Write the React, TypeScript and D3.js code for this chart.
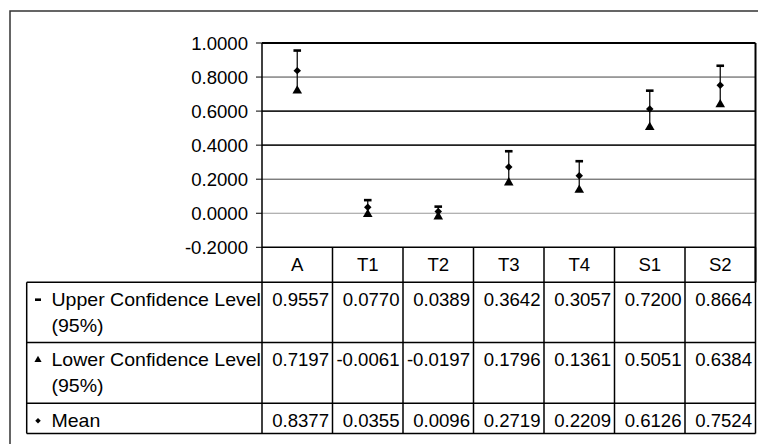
import React from "react";
import * as d3 from "d3";

const categories = ["A", "T1", "T2", "T3", "T4", "S1", "S2"];
const upper = [0.9557, 0.077, 0.0389, 0.3642, 0.3057, 0.72, 0.8664];
const lower = [0.7197, -0.0061, -0.0197, 0.1796, 0.1361, 0.5051, 0.6384];
const mean = [0.8377, 0.0355, 0.0096, 0.2719, 0.2209, 0.6126, 0.7524];
const seriesNames = [
  ["Upper Confidence Level", "(95%)"],
  ["Lower Confidence Level", "(95%)"],
  ["Mean"],
];
const yTicks = [-0.2, 0, 0.2, 0.4, 0.6, 0.8, 1.0];

const FONT = "'Liberation Sans', Arial, sans-serif";
const FS = 18.6;

function T({ x, y, anchor = "start", sx = 1, children }: any) {
  return (
    <text
      transform={`translate(${x},${y}) scale(${sx},1)`}
      textAnchor={anchor}
      fontFamily={FONT}
      fontSize={FS}
      fill="#000"
    >
      {children}
    </text>
  );
}

export default function App() {
  const W = 758,
    H = 444;
  const left = 262,
    right = 755.5,
    top = 43,
    axisBottom = 247.3;
  const x = d3.scaleBand<string>().domain(categories).range([left, right]).padding(0);
  const y = d3.scaleLinear().domain([-0.2, 1.0]).range([axisBottom, top]);
  const f4 = d3.format(".4f");
  const fmt = (v: number) => f4(v).replace("\u2212", "-");
  const bw = x.bandwidth();

  const tri = d3.symbol().type(d3.symbolTriangle).size(40)() as string;
  const triSmall = d3.symbol().type(d3.symbolTriangle).size(22)() as string;
  const dia = d3.symbol().type(d3.symbolSquare).size(28)() as string;
  const diaSmall = d3.symbol().type(d3.symbolSquare).size(15)() as string;

  const tableLeft = 26.7;
  const rowTops = [axisBottom, 282.3, 342.5, 403.3, 433.5];
  const gridStyle: Record<string, { c: string; w: number }> = {
    "0.8": { c: "#444", w: 1 },
    "0.6": { c: "#222", w: 1.6 },
    "0.4": { c: "#222", w: 1.6 },
    "0.2": { c: "#444", w: 1 },
    "0": { c: "#999", w: 1.2 },
  };

  return (
    <svg
      width={W}
      height={H}
      style={{ position: "absolute", left: 0, top: 0, background: "#fff" }}
    >
      <rect x={0} y={0} width={W} height={H} fill="#fff" />
      {/* outer frame */}
      <rect x={10} y={11} width={770} height={450} fill="none" stroke="#333" strokeWidth={1.5} />

      {/* gridlines */}
      {yTicks
        .filter((t) => t > -0.2 && t < 1.0)
        .map((t) => {
          const s = gridStyle[String(+t.toFixed(1))] || { c: "#444", w: 1 };
          return (
            <line key={t} x1={left} x2={right} y1={y(t)} y2={y(t)} stroke={s.c} strokeWidth={s.w} />
          );
        })}

      {/* plot frame */}
      <line x1={left} x2={right} y1={y(1.0)} y2={y(1.0)} stroke="#000" strokeWidth={2} />
      <line x1={right} x2={right} y1={y(1.0)} y2={rowTops[1]} stroke="#000" strokeWidth={2} />
      <line x1={left} x2={left} y1={y(1.0)} y2={rowTops[4]} stroke="#000" strokeWidth={1.5} />

      {/* y ticks and labels */}
      {yTicks.map((t) => (
        <g key={t}>
          <line x1={256} x2={left} y1={y(t)} y2={y(t)} stroke="#000" strokeWidth={1} />
          <T x={248} y={y(t) + 6.6} anchor="end">
            {fmt(t)}
          </T>
        </g>
      ))}

      {/* error bars */}
      {categories.map((c, i) => {
        const cx = (x(c) as number) + bw / 2;
        return (
          <g key={c}>
            <line x1={cx} x2={cx} y1={y(upper[i])} y2={y(lower[i])} stroke="#111" strokeWidth={1.3} />
            <line x1={cx - 3.8} x2={cx + 3.8} y1={y(upper[i])} y2={y(upper[i])} stroke="#000" strokeWidth={2.6} />
            <path d={tri} transform={`translate(${cx},${y(lower[i])})`} fill="#000" />
            <path d={dia} transform={`translate(${cx},${y(mean[i])}) rotate(45)`} fill="#000" />
          </g>
        );
      })}

      {/* table horizontal lines */}
      <line x1={left} x2={right} y1={rowTops[0]} y2={rowTops[0]} stroke="#000" strokeWidth={1.5} />
      {rowTops.slice(1).map((r, k) => (
        <line key={k} x1={tableLeft} x2={right} y1={r} y2={r} stroke="#000" strokeWidth={1.5} />
      ))}
      <line x1={tableLeft} x2={tableLeft} y1={rowTops[1]} y2={rowTops[4]} stroke="#000" strokeWidth={1.5} />
      {categories.map((c) => {
        const xr = (x(c) as number) + bw;
        return (
          <line key={c} x1={xr} x2={xr} y1={rowTops[0]} y2={rowTops[4]} stroke="#000" strokeWidth={1.5} />
        );
      })}

      {/* header */}
      {categories.map((c) => (
        <T key={c} x={(x(c) as number) + bw / 2} y={rowTops[0] + 23.3} anchor="middle">
          {c}
        </T>
      ))}

      {/* rows */}
      {[upper, lower, mean].map((vals, r) => {
        const base = rowTops[r + 1] + 23.4;
        const my = base - 6;
        return (
          <g key={r}>
            {r === 0 && (
              <line x1={35} x2={41} y1={my} y2={my} stroke="#000" strokeWidth={2.6} />
            )}
            {r === 1 && <path d={triSmall} transform={`translate(38,${my})`} fill="#000" />}
            {r === 2 && <path d={diaSmall} transform={`translate(38,${my}) rotate(45)`} fill="#000" />}
            {seriesNames[r].map((line, li) => (
              <T key={li} x={51.5} y={base + li * 26.2} sx={1.05}>
                {line}
              </T>
            ))}
            {vals.map((v, i) => (
              <T key={i} x={(x(categories[i]) as number) + bw - 3.5} y={base} anchor="end">
                {fmt(v)}
              </T>
            ))}
          </g>
        );
      })}
    </svg>
  );
}
